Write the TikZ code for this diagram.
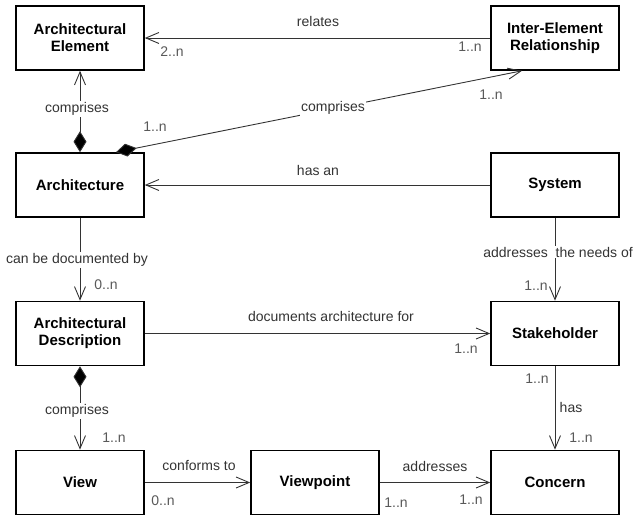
\documentclass[tikz,border=0pt]{standalone}
\usepackage{fontspec}
\setmainfont{Liberation Sans}
\usetikzlibrary{arrows.meta,positioning,calc}

\begin{document}
\begin{tikzpicture}[x=1pt,y=-1pt,font=\fontsize{14}{16}\selectfont,
  box/.style={draw,line width=1.6pt,minimum width=128pt,minimum height=64pt,
    align=center,inner sep=0pt,font=\fontsize{15}{17}\selectfont\bfseries},
  lbl/.style={text=black!80,inner sep=1pt},
  onl/.style={lbl,fill=white},
  mult/.style={text=black!65,inner sep=0pt},
  assoc/.style={draw=black!80,line width=0.9pt,
    -{Straight Barb[length=13pt,width=11pt,line width=0.9pt]}},
  comp/.style={assoc,{Diamond[length=21pt,width=13pt,fill=black]}-{Straight Barb[length=13pt,width=11pt,line width=0.9pt]}}]
\useasboundingbox (0,0) rectangle (640,521);

% classes
\node[box] (elem) at (80,38) {Architectural\\Element};
\node[box] (rel) at (555,38) {Inter-Element\\Relationship};
\node[box] (arch) at (80,185) {Architecture};
\node[box] (sys) at (555,185) {System};
\node[box] (desc) at (80,333.5) {Architectural\\Description};
\node[box] (stake) at (555,333.5) {Stakeholder};
\node[box] (view) at (80,482.5) {View};
\node[box] (vpoint) at (315,482.5) {Viewpoint};
\node[box] (concern) at (555,482.5) {Concern};

% associations
\draw[assoc] (rel) -- (elem);
\draw[comp] (arch) -- (elem);
\draw[comp] ([xshift=36pt]arch.north) -- ([xshift=-33pt]rel.south);
\draw[assoc] (sys) -- (arch);
\draw[assoc] (arch) -- (desc);
\draw[assoc] (sys) -- (stake);
\draw[assoc] (desc) -- (stake);
\draw[comp] (desc) -- (view);
\draw[assoc] (view) -- (vpoint);
\draw[assoc] (vpoint) -- (concern);
\draw[assoc] (stake) -- (concern);

% role names
\node[lbl] (lRelates) at (318,21) {relates};
\node[onl] (lComp1) at (77,109) {comprises};
\node[onl] (lComp2) at (333,108) {comprises};
\node[lbl] (lHasAn) at (318,170) {has an};
\node[onl] (lDocBy) at (77,260) {can be documented by};
\node[onl] (lNeeds) at (558,252) {addresses\ \ the needs of};
\node[lbl] (lDocFor) at (331,316) {documents architecture for};
\node[onl] (lComp3) at (77,411) {comprises};
\node[lbl] (lHas) at (571,407) {has};
\node[lbl] (lConf) at (199,466) {conforms to};
\node[lbl] (lAddr) at (435,466) {addresses};

% multiplicities
\node[mult] (m1) at (172,52) {2..n};
\node[mult] (m2) at (470,47) {1..n};
\node[mult] (m3) at (155,127) {1..n};
\node[mult] (m4) at (491,95) {1..n};
\node[mult] (m5) at (106,285) {0..n};
\node[mult] (m6) at (536,286) {1..n};
\node[mult] (m7) at (466,349) {1..n};
\node[mult] (m8) at (537,379) {1..n};
\node[mult] (m9) at (581,438) {1..n};
\node[mult] (m10) at (114,438) {1..n};
\node[mult] (m11) at (163,501) {0..n};
\node[mult] (m12) at (396,503) {1..n};
\node[mult] (m13) at (471,500) {1..n};
\end{tikzpicture}
\end{document}
